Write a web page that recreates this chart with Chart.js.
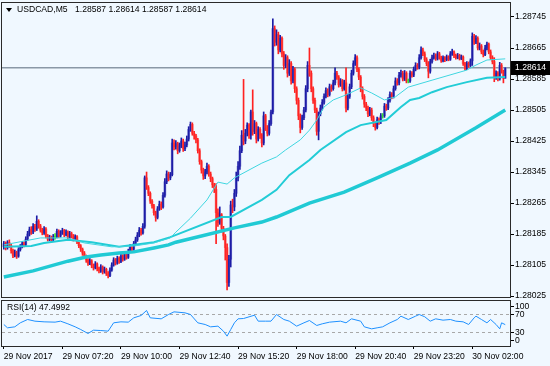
<!DOCTYPE html>
<html><head><meta charset="utf-8">
<script src="https://cdn.jsdelivr.net/npm/chart.js@4.4.0/dist/chart.umd.min.js"></script>
<style>
html,body{margin:0;padding:0;background:#f0f8ff;}
#wrap{position:relative;width:550px;height:366px;overflow:hidden;background:#f0f8ff;}
#main{position:absolute;left:0;top:0;}
#rsi{position:absolute;left:0;top:298px;}
</style></head><body>
<div id="wrap"><canvas id="main" width="550" height="300"></canvas><canvas id="rsi" width="550" height="68"></canvas></div>
<script>
// ---------- data ----------
const symbol = 'USDCAD,M5';
const openP = [
1.28152,1.28160,1.28150,1.28163,1.28155,1.28142,1.28130,1.28138,1.28128,1.28145,
1.28152,1.28160,1.28158,1.28172,1.28185,1.28196,1.28190,1.28205,1.28198,1.28218,
1.28206,1.28195,1.28188,1.28198,1.28180,1.28172,1.28176,1.28170,1.28178,1.28178,
1.28192,1.28180,1.28188,1.28194,1.28183,1.28190,1.28176,1.28186,1.28180,1.28172,
1.28178,1.28165,1.28155,1.28146,1.28136,1.28128,1.28118,1.28110,1.28116,1.28104,
1.28098,1.28108,1.28096,1.28090,1.28100,1.28088,1.28094,1.28083,1.28078,1.28092,
1.28105,1.28118,1.28110,1.28122,1.28114,1.28128,1.28120,1.28133,1.28125,1.28140,
1.28152,1.28146,1.28160,1.28170,1.28182,1.28195,1.28188,1.28205,1.28330,1.28305,
1.28290,1.28270,1.28258,1.28240,1.28228,1.28250,1.28262,1.28255,1.28285,1.28320,
1.28340,1.28330,1.28338,1.28420,1.28410,1.28418,1.28400,1.28412,1.28425,1.28405,
1.28415,1.28430,1.28455,1.28468,1.28445,1.28438,1.28428,1.28400,1.28372,1.28350,
1.28335,1.28345,1.28360,1.28340,1.28328,1.28312,1.28300,1.28240,1.28215,1.28235,
1.28200,1.28180,1.28150,1.28060,1.28120,1.28260,1.28255,1.28290,1.28330,1.28360,
1.28400,1.28440,1.28425,1.28445,1.28466,1.28440,1.28500,1.28450,1.28470,1.28430,
1.28455,1.28440,1.28420,1.28490,1.28460,1.28445,1.28470,1.28500,1.28715,1.28680,
1.28700,1.28660,1.28690,1.28650,1.28620,1.28640,1.28600,1.28625,1.28580,1.28610,
1.28560,1.28530,1.28490,1.28460,1.28485,1.28505,1.28560,1.28620,1.28600,1.28560,
1.28530,1.28505,1.28450,1.28495,1.28510,1.28525,1.28540,1.28555,1.28545,1.28565,
1.28560,1.28575,1.28600,1.28590,1.28570,1.28580,1.28560,1.28575,1.28510,1.28540,
1.28565,1.28600,1.28625,1.28640,1.28610,1.28590,1.28560,1.28540,1.28520,1.28510,
1.28495,1.28505,1.28485,1.28470,1.28460,1.28480,1.28475,1.28490,1.28490,1.28515,
1.28510,1.28530,1.28545,1.28540,1.28560,1.28580,1.28575,1.28595,1.28600,1.28585,
1.28600,1.28580,1.28580,1.28600,1.28595,1.28610,1.28620,1.28615,1.28640,1.28660,
1.28650,1.28635,1.28625,1.28605,1.28630,1.28640,1.28645,1.28638,1.28650,1.28640,
1.28632,1.28640,1.28635,1.28642,1.28636,1.28650,1.28655,1.28645,1.28640,1.28646,
1.28638,1.28642,1.28625,1.28612,1.28625,1.28620,1.28632,1.28695,1.28680,1.28690,
1.28665,1.28670,1.28655,1.28648,1.28665,1.28675,1.28655,1.28640,1.28630,1.28590,
1.28600,1.28585,1.28620,1.28605,1.28587];
const highP = [
1.28166,1.28165,1.28168,1.28170,1.28160,1.28146,1.28144,1.28141,1.28150,1.28158,
1.28166,1.28165,1.28178,1.28192,1.28203,1.28204,1.28212,1.28210,1.28232,1.28222,
1.28210,1.28200,1.28204,1.28202,1.28184,1.28182,1.28180,1.28184,1.28186,1.28198,
1.28196,1.28194,1.28200,1.28197,1.28196,1.28193,1.28192,1.28190,1.28184,1.28183,
1.28181,1.28168,1.28158,1.28149,1.28140,1.28131,1.28122,1.28122,1.28119,1.28108,
1.28114,1.28111,1.28100,1.28106,1.28103,1.28100,1.28097,1.28088,1.28098,1.28111,
1.28124,1.28122,1.28128,1.28126,1.28134,1.28132,1.28139,1.28137,1.28146,1.28158,
1.28156,1.28166,1.28177,1.28189,1.28202,1.28200,1.28212,1.28335,1.28345,1.28310,
1.28294,1.28274,1.28262,1.28244,1.28256,1.28270,1.28268,1.28292,1.28328,1.28348,
1.28345,1.28344,1.28430,1.28428,1.28426,1.28422,1.28420,1.28433,1.28430,1.28422,
1.28438,1.28462,1.28474,1.28472,1.28450,1.28442,1.28432,1.28405,1.28376,1.28355,
1.28352,1.28368,1.28364,1.28345,1.28332,1.28316,1.28315,1.28250,1.28255,1.28238,
1.28205,1.28184,1.28160,1.28130,1.28270,1.28275,1.28300,1.28345,1.28372,1.28412,
1.28452,1.28584,1.28455,1.28472,1.28470,1.28505,1.28557,1.28478,1.28474,1.28462,
1.28460,1.28444,1.28500,1.28494,1.28465,1.28478,1.28505,1.28740,1.28722,1.28712,
1.28706,1.28698,1.28694,1.28656,1.28648,1.28645,1.28635,1.28630,1.28618,1.28614,
1.28565,1.28536,1.28495,1.28492,1.28512,1.28568,1.28630,1.28665,1.28606,1.28565,
1.28536,1.28510,1.28500,1.28518,1.28532,1.28547,1.28562,1.28560,1.28572,1.28570,
1.28582,1.28614,1.28605,1.28594,1.28586,1.28584,1.28582,1.28614,1.28546,1.28572,
1.28608,1.28632,1.28648,1.28645,1.28614,1.28594,1.28565,1.28545,1.28525,1.28515,
1.28512,1.28510,1.28490,1.28474,1.28487,1.28485,1.28496,1.28496,1.28522,1.28520,
1.28537,1.28552,1.28550,1.28567,1.28588,1.28586,1.28602,1.28608,1.28605,1.28607,
1.28604,1.28585,1.28606,1.28604,1.28616,1.28627,1.28625,1.28648,1.28668,1.28665,
1.28655,1.28640,1.28630,1.28636,1.28647,1.28652,1.28650,1.28656,1.28654,1.28644,
1.28645,1.28643,1.28647,1.28645,1.28656,1.28662,1.28658,1.28649,1.28651,1.28649,
1.28647,1.28645,1.28628,1.28630,1.28629,1.28637,1.28704,1.28700,1.28697,1.28694,
1.28678,1.28674,1.28660,1.28672,1.28680,1.28678,1.28660,1.28645,1.28640,1.28606,
1.28604,1.28628,1.28625,1.28608,1.28614];
const lowP = [
1.28146,1.28144,1.28146,1.28150,1.28136,1.28124,1.28126,1.28122,1.28125,1.28141,
1.28149,1.28152,1.28155,1.28168,1.28180,1.28184,1.28186,1.28192,1.28194,1.28200,
1.28190,1.28183,1.28184,1.28175,1.28167,1.28168,1.28165,1.28166,1.28172,1.28175,
1.28176,1.28177,1.28184,1.28178,1.28180,1.28171,1.28173,1.28175,1.28167,1.28168,
1.28160,1.28150,1.28140,1.28130,1.28122,1.28112,1.28104,1.28106,1.28098,1.28092,
1.28095,1.28090,1.28085,1.28086,1.28082,1.28084,1.28078,1.28072,1.28075,1.28089,
1.28102,1.28105,1.28107,1.28109,1.28111,1.28115,1.28117,1.28120,1.28122,1.28137,
1.28140,1.28143,1.28156,1.28166,1.28178,1.28182,1.28185,1.28200,1.28300,1.28284,
1.28264,1.28252,1.28234,1.28218,1.28224,1.28246,1.28248,1.28252,1.28280,1.28315,
1.28322,1.28325,1.28335,1.28402,1.28404,1.28392,1.28396,1.28408,1.28398,1.28400,
1.28410,1.28425,1.28450,1.28440,1.28430,1.28420,1.28394,1.28365,1.28342,1.28326,
1.28328,1.28340,1.28334,1.28320,1.28305,1.28292,1.28160,1.28205,1.28210,1.28190,
1.28170,1.28118,1.28041,1.28050,1.28100,1.28240,1.28245,1.28282,1.28322,1.28352,
1.28395,1.28415,1.28418,1.28438,1.28432,1.28430,1.28440,1.28444,1.28420,1.28425,
1.28432,1.28410,1.28415,1.28452,1.28438,1.28440,1.28465,1.28495,1.28670,1.28672,
1.28650,1.28655,1.28642,1.28610,1.28614,1.28590,1.28594,1.28572,1.28575,1.28550,
1.28520,1.28480,1.28446,1.28455,1.28480,1.28500,1.28552,1.28592,1.28552,1.28522,
1.28498,1.28440,1.28428,1.28490,1.28505,1.28520,1.28536,1.28539,1.28541,1.28553,
1.28556,1.28570,1.28584,1.28564,1.28566,1.28554,1.28556,1.28500,1.28505,1.28535,
1.28560,1.28595,1.28620,1.28604,1.28583,1.28552,1.28533,1.28512,1.28503,1.28488,
1.28490,1.28478,1.28462,1.28453,1.28456,1.28468,1.28470,1.28484,1.28486,1.28504,
1.28506,1.28525,1.28534,1.28536,1.28556,1.28569,1.28570,1.28590,1.28580,1.28581,
1.28575,1.28575,1.28576,1.28590,1.28591,1.28606,1.28610,1.28611,1.28636,1.28645,
1.28630,1.28619,1.28588,1.28600,1.28626,1.28636,1.28633,1.28634,1.28636,1.28628,
1.28629,1.28630,1.28632,1.28632,1.28633,1.28646,1.28640,1.28636,1.28637,1.28634,
1.28635,1.28620,1.28608,1.28609,1.28615,1.28617,1.28620,1.28674,1.28676,1.28660,
1.28660,1.28650,1.28642,1.28645,1.28660,1.28650,1.28635,1.28624,1.28578,1.28584,
1.28580,1.28582,1.28600,1.28575,1.28587];
const closeP = [
1.28160,1.28150,1.28163,1.28155,1.28142,1.28130,1.28138,1.28128,1.28145,1.28152,
1.28160,1.28158,1.28172,1.28185,1.28196,1.28190,1.28205,1.28198,1.28218,1.28206,
1.28195,1.28188,1.28198,1.28180,1.28172,1.28176,1.28170,1.28178,1.28178,1.28192,
1.28180,1.28188,1.28194,1.28183,1.28190,1.28176,1.28186,1.28180,1.28172,1.28178,
1.28165,1.28155,1.28146,1.28136,1.28128,1.28118,1.28110,1.28116,1.28104,1.28098,
1.28108,1.28096,1.28090,1.28100,1.28088,1.28094,1.28083,1.28078,1.28092,1.28105,
1.28118,1.28110,1.28122,1.28114,1.28128,1.28120,1.28133,1.28125,1.28140,1.28152,
1.28146,1.28160,1.28170,1.28182,1.28195,1.28188,1.28205,1.28330,1.28305,1.28290,
1.28270,1.28258,1.28240,1.28228,1.28250,1.28262,1.28255,1.28285,1.28320,1.28340,
1.28330,1.28338,1.28420,1.28410,1.28418,1.28400,1.28412,1.28425,1.28405,1.28415,
1.28430,1.28455,1.28468,1.28445,1.28438,1.28428,1.28400,1.28372,1.28350,1.28335,
1.28345,1.28360,1.28340,1.28328,1.28312,1.28300,1.28240,1.28215,1.28235,1.28200,
1.28180,1.28150,1.28060,1.28120,1.28260,1.28255,1.28290,1.28330,1.28360,1.28400,
1.28440,1.28425,1.28445,1.28466,1.28440,1.28500,1.28450,1.28470,1.28430,1.28455,
1.28440,1.28420,1.28490,1.28460,1.28445,1.28470,1.28500,1.28715,1.28680,1.28700,
1.28660,1.28690,1.28650,1.28620,1.28640,1.28600,1.28625,1.28580,1.28610,1.28560,
1.28530,1.28490,1.28460,1.28485,1.28505,1.28560,1.28620,1.28600,1.28560,1.28530,
1.28505,1.28450,1.28495,1.28510,1.28525,1.28540,1.28555,1.28545,1.28565,1.28560,
1.28575,1.28600,1.28590,1.28570,1.28580,1.28560,1.28575,1.28510,1.28540,1.28565,
1.28600,1.28625,1.28640,1.28610,1.28590,1.28560,1.28540,1.28520,1.28510,1.28495,
1.28505,1.28485,1.28470,1.28460,1.28480,1.28475,1.28490,1.28490,1.28515,1.28510,
1.28530,1.28545,1.28540,1.28560,1.28580,1.28575,1.28595,1.28600,1.28585,1.28600,
1.28580,1.28580,1.28600,1.28595,1.28610,1.28620,1.28615,1.28640,1.28660,1.28650,
1.28635,1.28625,1.28605,1.28630,1.28640,1.28645,1.28638,1.28650,1.28640,1.28632,
1.28640,1.28635,1.28642,1.28636,1.28650,1.28655,1.28645,1.28640,1.28646,1.28638,
1.28642,1.28625,1.28612,1.28625,1.28620,1.28632,1.28695,1.28680,1.28690,1.28665,
1.28670,1.28655,1.28648,1.28665,1.28675,1.28655,1.28640,1.28630,1.28590,1.28600,
1.28585,1.28620,1.28605,1.28587,1.28614];

// moving averages (bar index, price)
const maFastIdx = [0,20,35,44,59,71,82,91,94,102,111,117,122,126,141,149,154,162,167,171,175,180,187,195,201,208,214,221,234,253,258,264,274];
const maFastVal = [1.28157,1.28175,1.28175,1.28162,1.28152,1.28154,1.28162,1.28175,1.28190,1.28226,1.28273,1.28319,1.28314,1.28330,1.28368,1.28384,1.28402,1.28428,1.28453,1.28479,1.28513,1.28531,1.28544,1.28562,1.28549,1.28531,1.28539,1.28564,1.28582,1.28608,1.28621,1.28634,1.28637];
const maMidIdx = [0,15,22,35,48,63,82,91,119,124,141,149,156,167,173,187,195,209,217,222,227,234,242,253,264,274];
const maMidVal = [1.28152,1.28154,1.28162,1.28170,1.28164,1.28152,1.28164,1.28177,1.28229,1.28229,1.28273,1.28299,1.28337,1.28376,1.28402,1.28448,1.28466,1.28479,1.28513,1.28531,1.28536,1.28551,1.28564,1.28577,1.28588,1.28590];
const maSlowIdx = [0,16,35,45,53,63,71,82,90,94,108,126,141,149,167,186,204,222,237,258,274];
const maSlowVal = [1.28074,1.28090,1.28115,1.28126,1.28131,1.28136,1.28139,1.28149,1.28157,1.28164,1.28180,1.28201,1.28216,1.28229,1.28265,1.28293,1.28330,1.28368,1.28402,1.28459,1.28505];

// RSI(14) (bar index, value)
const rsiIdx = [0,2,6,9,13,17,22,28,31,35,39,42,46,49,53,57,60,64,68,71,75,78,80,86,90,93,99,102,106,110,113,117,120,122,124,126,128,131,137,139,143,146,149,153,156,160,164,167,171,174,178,184,187,190,195,197,201,204,207,211,215,217,221,225,227,230,233,236,240,244,247,251,254,257,258,261,264,266,269,271,272,274];
const rsiVal = [47.8,40.4,42.6,51.5,58.9,55.2,53.7,53.0,55.2,49.3,42.6,36.7,27.8,35.2,34.4,33.0,51.5,53.7,53.0,62.6,67.8,78.9,62.6,60.4,70.0,75.9,73.7,70.0,51.5,47.8,42.6,44.1,33.0,21.9,36.7,51.5,60.4,61.1,68.5,55.2,55.2,55.2,70.0,58.9,55.2,44.1,51.5,56.7,45.6,49.3,53.0,55.2,51.5,60.4,55.2,42.6,38.1,40.4,42.6,51.5,58.9,66.3,58.9,66.3,70.0,65.0,55.2,60.4,57.4,58.9,55.2,53.7,47.8,62.6,66.3,58.9,51.5,58.9,47.8,38.1,51.5,47.4992];
const rsiLevels = [70, 30];
const rsiTickText = ['100','70','30','0'];
const rsiTickPlace = [88, 70, 30, 12];
const rsiTitle = 'RSI(14) 47.4992';

const priceTicks = [1.28025,1.28105,1.28185,1.28265,1.28345,1.28425,1.28505,1.28585,1.28665,1.28745];
const currentPrice = 1.28614;
const timeLabels = ['29 Nov 2017','29 Nov 07:20','29 Nov 10:00','29 Nov 12:40','29 Nov 15:20','29 Nov 18:00','29 Nov 20:40','29 Nov 23:20','30 Nov 02:00'];
const timeLabelIdx = [0,32,64,96,128,160,192,224,256];

// ---------- view settings ----------
const xMin = -1, xMax = 276.6;
const priceMin = 1.280226, priceMax = 1.287811;
const FONT = "'Liberation Sans', Arial, sans-serif";
const FS = 8.6;
Chart.defaults.font.family = FONT;
Chart.defaults.font.size = FS;
Chart.defaults.color = '#000';

const idx = closeP.map((_, i) => i);
const bodyCol = idx.map(i => closeP[i] > openP[i] ? '#7d7dcf' : closeP[i] < openP[i] ? '#f38585' : '#33dd33');
const wickCol = idx.map(i => closeP[i] > openP[i] ? '#1c1ca6' : closeP[i] < openP[i] ? '#ff2222' : '#33dd33');
const pts = (xs, ys) => xs.map((x, k) => ({x: x, y: ys[k]}));

const framePlugin = {
  id: 'frame',
  afterDatasetsDraw(chart) {
    const a = chart.chartArea, c = chart.ctx;
    c.save(); c.strokeStyle = '#2a2a2a'; c.lineWidth = 1;
    c.strokeRect(Math.round(a.left) - 0.5, Math.round(a.top) - 0.5, Math.round(a.right - a.left) + 1, Math.round(a.bottom - a.top) + 1);
    c.restore();
  }
};

const mainDecor = {
  id: 'mainDecor',
  afterDraw(chart) {
    const c = chart.ctx, a = chart.chartArea, y = chart.scales.y.getPixelForValue(currentPrice);
    c.save();
    // current price box
    c.fillStyle = '#000';
    c.fillRect(a.right + 1, Math.round(y) - 7, 40, 14);
    c.fillStyle = '#fff'; c.font = FS + 'px ' + FONT; c.textBaseline = 'middle'; c.textAlign = 'left';
    c.fillText(currentPrice.toFixed(5), a.right + 5, Math.round(y));
    // title
    const n = closeP.length - 1;
    c.fillStyle = '#000';
    c.beginPath(); c.moveTo(6, 8); c.lineTo(12, 8); c.lineTo(9, 12); c.closePath(); c.fill();
    c.fillText(symbol, 17, 10);
    c.fillText([openP[n], highP[n], lowP[n], closeP[n]].map(v => v.toFixed(5)).join(' '), 75, 10);
    c.restore();
  }
};

new Chart(document.getElementById('main'), {
  type: 'bar',
  data: {
    datasets: [
      {type:'line', label:'MA fast', data: pts(maFastIdx, maFastVal), borderColor:'#3fd6e0', borderWidth:1, pointRadius:0, tension:0, order:0},
      {type:'line', label:'MA mid', data: pts(maMidIdx, maMidVal), borderColor:'#22ccd6', borderWidth:2, pointRadius:0, tension:0, order:0},
      {type:'line', label:'MA slow', data: pts(maSlowIdx, maSlowVal), borderColor:'#20cad4', borderWidth:3.5, pointRadius:0, tension:0, order:0},
      {type:'bar', label:'wick', data: idx.map(i => ({x:i, y:[lowP[i], highP[i]]})), backgroundColor: wickCol, barThickness:1, grouped:false, order:1},
      {type:'bar', label:'body', data: idx.map(i => ({x:i, y:[Math.min(openP[i], closeP[i]), Math.max(openP[i], closeP[i])]})), backgroundColor: bodyCol, barThickness:2, grouped:false, order:2},
      {type:'line', label:'price', data: [{x:xMin, y:currentPrice}, {x:xMax, y:currentPrice}], borderColor:'#8a98a6', borderWidth:1.5, pointRadius:0, order:10}
    ]
  },
  options: {
    responsive:false, animation:false, devicePixelRatio:1,
    layout:{padding:{left:2, top:3, right:0, bottom:3}},
    plugins:{legend:{display:false}, tooltip:{enabled:false}},
    scales:{
      x:{type:'linear', min:xMin, max:xMax, display:false, offset:false, grid:{offset:false}},
      y:{type:'linear', position:'right', min:priceMin, max:priceMax,
         afterBuildTicks: s => { s.ticks = priceTicks.map(v => ({value:v})); },
         afterFit: s => { s.width = 40; s.paddingTop = 0; s.paddingBottom = 0; },
         ticks:{callback: v => Number(v).toFixed(5), padding:1, autoSkip:false, color:'#000'},
         grid:{drawOnChartArea:false, drawTicks:true, tickLength:4, color:'#000'},
         border:{display:false}}
    }
  },
  plugins:[framePlugin, mainDecor]
});

const rsiDecor = {
  id: 'rsiDecor',
  afterDraw(chart) {
    const c = chart.ctx, a = chart.chartArea;
    c.save(); c.fillStyle = '#000'; c.font = FS + 'px ' + FONT; c.textBaseline = 'middle';
    c.fillText(rsiTitle, a.left + 5, a.top + 7);
    c.restore();
  }
};

new Chart(document.getElementById('rsi'), {
  type: 'line',
  data: {
    datasets: [
      {label:'RSI', data: pts(rsiIdx, rsiVal), borderColor:'#1e90ff', borderWidth:1, pointRadius:0, tension:0, order:0},
      ...rsiLevels.map(l => ({label:'L' + l, data:[{x:xMin, y:l}, {x:xMax, y:l}], borderColor:'#a8a8a8', borderWidth:1, borderDash:[3,3], pointRadius:0, order:1}))
    ]
  },
  options: {
    responsive:false, animation:false, devicePixelRatio:1,
    layout:{padding:{left:2, top:3, right:0, bottom:0}},
    plugins:{legend:{display:false}, tooltip:{enabled:false}},
    scales:{
      x:{type:'linear', min:xMin, max:xMax, offset:false,
         afterBuildTicks: s => { s.ticks = timeLabelIdx.map(v => ({value:v})); },
         afterFit: s => { s.height = 20; s.paddingLeft = 0; s.paddingRight = 0; },
         ticks:{callback: (v, i) => timeLabels[i], align:'start', maxRotation:0, autoSkip:false, padding:2, color:'#000'},
         grid:{drawOnChartArea:false, drawTicks:true, tickLength:3, color:'#000', offset:false},
         border:{display:false}},
      y:{type:'linear', position:'right', min:0, max:100,
         afterBuildTicks: s => { s.ticks = rsiTickPlace.map(v => ({value:v})); },
         afterFit: s => { s.width = 40; s.paddingTop = 0; s.paddingBottom = 0; },
         ticks:{callback: (v, i) => rsiTickText[i], padding:1, autoSkip:false, color:'#000'},
         grid:{drawOnChartArea:false, drawTicks:true, tickLength:4, color:'#000'},
         border:{display:false}}
    }
  },
  plugins:[framePlugin, rsiDecor]
});
</script>
</body></html>
